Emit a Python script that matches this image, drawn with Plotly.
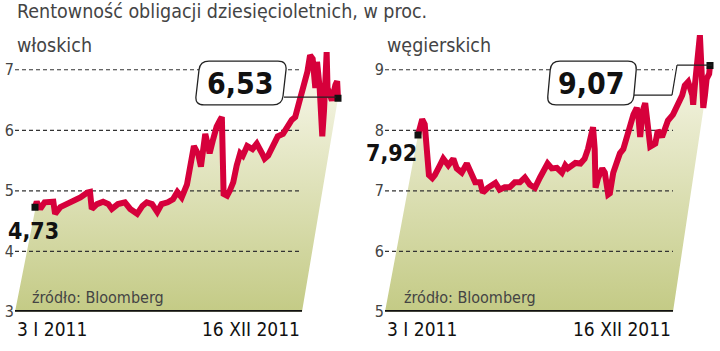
import plotly.graph_objects as go

W, H = 720, 351

# ---------------- data ----------------
title_text = "Rentowność obligacji dziesięcioletnich, w proc."
panel_names = ["włoskich", "węgierskich"]
source_text = "źródło: Bloomberg"
x_labels = ["3 I 2011", "16 XII 2011"]

# days since 3 I 2011
it_days = [0, 2, 6, 11, 21, 23, 29, 37, 44, 52, 60, 63, 65, 71, 78, 84, 88, 95, 103, 109,
           117, 123, 128, 134, 140, 145, 152, 158, 163, 168, 174, 178, 182, 187, 190, 195,
           197, 200, 204, 208, 212, 214, 216, 220, 223, 227, 231, 235, 238, 243, 249, 254,
           260, 263, 267, 273, 278, 284, 289, 294, 298, 300, 303, 307, 312, 315, 318, 321,
           323, 326, 329, 331, 334, 335, 340, 344, 346, 347]
it_yield = [4.73, 4.82, 4.70, 4.81, 4.82, 4.62, 4.73, 4.78, 4.82, 4.89, 4.97, 4.98, 4.70, 4.78,
            4.82, 4.78, 4.70, 4.78, 4.81, 4.70, 4.62, 4.75, 4.81, 4.78, 4.65, 4.78, 4.81, 4.86,
            4.98, 4.89, 5.10, 5.45, 5.74, 5.60, 5.40, 5.94, 5.78, 5.62, 5.85, 6.06, 6.17, 6.22,
            4.95, 4.92, 5.00, 5.14, 5.42, 5.62, 5.58, 5.74, 5.69, 5.78, 5.62, 5.53, 5.58, 5.78,
            5.90, 5.94, 6.06, 6.17, 6.22, 6.38, 6.49, 6.70, 6.97, 7.24, 7.18, 6.70, 7.13, 6.70,
            5.90, 6.33, 7.29, 6.70, 6.49, 6.75, 6.81, 6.53]

hu_days = [0, 5, 8, 10, 11, 12, 13, 17, 20, 26, 30, 36, 42, 46, 52, 58, 62, 68, 74, 77, 83,
           92, 97, 103, 109, 115, 121, 127, 133, 139, 145, 151, 154, 159, 165, 171, 175, 178,
           187, 193, 198, 202, 207, 208, 210, 211, 214, 219, 222, 226, 228, 232, 236, 240, 244,
           248, 252, 256, 260, 262, 264, 267, 270, 272, 276, 282, 285, 290, 294, 297, 303, 309,
           314, 317, 321, 326, 327, 329, 332, 333, 335, 336, 337, 339, 341, 343, 346, 347]
hu_yield = [7.92, 8.18, 8.10, 7.85, 7.62, 7.53, 7.26, 7.21, 7.26, 7.42, 7.53, 7.42, 7.53, 7.37,
            7.30, 7.45, 7.30, 7.14, 7.14, 6.97, 7.05, 7.13, 7.02, 7.06, 7.06, 7.14, 7.14, 7.22,
            7.10, 7.05, 7.22, 7.37, 7.45, 7.37, 7.38, 7.30, 7.42, 7.37, 7.46, 7.45, 7.53, 7.69,
            8.00, 8.05, 7.69, 7.05, 7.21, 7.37, 7.30, 6.94, 6.96, 7.30, 7.46, 7.62, 7.69, 7.89,
            8.10, 8.26, 8.37, 8.21, 7.89, 8.32, 8.45, 8.21, 7.73, 7.78, 8.00, 7.89, 8.05, 8.16,
            8.26, 8.42, 8.58, 8.74, 8.80, 8.58, 8.42, 8.74, 9.17, 9.49, 9.57, 9.28, 8.74, 8.37,
            8.58, 8.85, 8.93, 9.07]

it_ticks = [3, 4, 5, 6, 7]
hu_ticks = [5, 6, 7, 8, 9]

# ---------------- style / geometry ----------------
RED = "#d6003b"
FILL_BOTTOM = "#c2c982"
FILL_TOP = "#fbfaf0"
TXT = "#444444"
NARROW = "Liberation Sans Narrow, Arial Narrow, DejaVu Sans Condensed, sans-serif"

Y_BASE_PX = 321
PX_PER_UNIT = 62.3
Y_TOP_PX = 25


def px(x):
    return x / W


def py(y):
    return 1 - y / H


panels = [
    dict(days=it_days, vals=it_yield, ticks=it_ticks, name=panel_names[0],
         base_l=15, base_r=302, first_px=35, last_px=338, dom_r=350,
         src_x=30, box=(195, 282, 5), box_txt=(240, 86), start_lbl=(33, 238),
         leader=[(284, 100), (336, 100)], name_x=15),
    dict(days=hu_days, vals=hu_yield, ticks=hu_ticks, name=panel_names[1],
         base_l=385, base_r=673, first_px=418, last_px=710, dom_r=718,
         src_x=402, box=(547, 633, 4), box_txt=(591, 86), start_lbl=(392, 158),
         leader=[(634, 98), (672, 98), (677, 67), (712, 67)], name_x=385),
]


def fmt(v):
    return f"{v:.2f}".replace(".", ",")


def rounded_box_path(xl, xr, skew, yt, yb, r):
    pts = [(xl + skew, yt), (xr + skew, yt), (xr, yb), (xl, yb)]
    n = len(pts)

    def toward(p, q, d):
        dx, dy = q[0] - p[0], q[1] - p[1]
        L = (dx * dx + dy * dy) ** 0.5
        return (p[0] + dx / L * d, p[1] + dy / L * d)

    segs = []
    for i in range(n):
        p = pts[i]
        a = toward(p, pts[i - 1], r)
        b = toward(p, pts[(i + 1) % n], r)
        segs.append((a, p, b))
    s = "M %f,%f " % (px(segs[0][2][0]), py(segs[0][2][1]))
    for i in list(range(1, n)) + [0]:
        a, p, b = segs[i]
        s += "L %f,%f Q %f,%f %f,%f " % (px(a[0]), py(a[1]), px(p[0]), py(p[1]), px(b[0]), py(b[1]))
    return s + "Z"


fig = go.Figure()
shapes = []
annotations = []

for i, P in enumerate(panels):
    xa = "x" if i == 0 else "x2"
    ya = "y" if i == 0 else "y2"
    days, vals = P["days"], P["vals"]
    y0 = P["ticks"][0]
    dpp = (days[-1] - days[0]) / (P["last_px"] - P["first_px"])

    def day_at(p, P=P, dpp=dpp, days=days):
        return days[0] + (p - P["first_px"]) * dpp

    c_l, c_r = day_at(P["base_l"]), day_at(P["base_r"])
    y_top = y0 + (Y_BASE_PX - Y_TOP_PX) / PX_PER_UNIT

    # gradient fill under the curve
    fig.add_trace(go.Scatter(
        x=[c_l] + days + [c_r], y=[y0] + vals + [y0], xaxis=xa, yaxis=ya,
        mode="lines", fill="toself", line=dict(width=0),
        fillgradient=dict(type="vertical", colorscale=[[0, FILL_BOTTOM], [1, FILL_TOP]],
                          start=y0, stop=max(vals)),
        hoverinfo="skip", showlegend=False))
    # dashed gridlines
    for t in P["ticks"][1:]:
        fig.add_trace(go.Scatter(
            x=[c_l, c_r], y=[t, t], xaxis=xa, yaxis=ya, mode="lines",
            line=dict(color="#333333", width=1.2, dash="4px,3px"),
            hoverinfo="skip", showlegend=False))
    # baseline
    fig.add_trace(go.Scatter(
        x=[c_l, c_r], y=[y0, y0], xaxis=xa, yaxis=ya, mode="lines",
        line=dict(color="#111111", width=3.5), hoverinfo="skip", showlegend=False))
    # yield line
    fig.add_trace(go.Scatter(
        x=days, y=vals, xaxis=xa, yaxis=ya, mode="lines",
        line=dict(color=RED, width=6), hoverinfo="skip", showlegend=False))
    # end markers
    fig.add_trace(go.Scatter(
        x=[days[0], days[-1]], y=[vals[0], vals[-1]], xaxis=xa, yaxis=ya, mode="markers",
        marker=dict(symbol="square", size=7, color="#111111"),
        hoverinfo="skip", showlegend=False))

    dom = [px(P["base_l"]), px(P["dom_r"])]
    xkey = "xaxis" if i == 0 else "xaxis2"
    ykey = "yaxis" if i == 0 else "yaxis2"
    fig.update_layout(**{
        xkey: dict(domain=dom, range=[c_l, day_at(P["dom_r"])], showgrid=False,
                   zeroline=False, showticklabels=False, showline=False, fixedrange=True,
                   anchor=ya),
        ykey: dict(domain=[py(Y_BASE_PX), py(Y_TOP_PX)], range=[y0, y_top],
                   tickvals=P["ticks"], ticktext=[str(t) for t in P["ticks"]],
                   showgrid=False, zeroline=False, showline=False, ticks="",
                   tickfont=dict(family=NARROW, size=16, color="#444444"),
                   anchor=xa, fixedrange=True),
    })

    # label box for last value
    bl, br, sk = P["box"]
    shapes.append(dict(type="path", xref="paper", yref="paper",
                       path=rounded_box_path(bl, br, sk, 63, 108, 9),
                       line=dict(color="#222222", width=1.3), fillcolor="white", layer="above"))
    ld = P["leader"]
    for (xa0, ya0), (xa1, ya1) in zip(ld[:-1], ld[1:]):
        shapes.append(dict(type="line", xref="paper", yref="paper",
                           x0=px(xa0), y0=py(ya0), x1=px(xa1), y1=py(ya1),
                           line=dict(color="#222222", width=1.2), layer="above"))
    tx, ty = P["box_txt"]
    annotations.append(dict(x=px(tx), y=py(ty), xref="paper", yref="paper", showarrow=False,
                            text="<b>%s</b>" % fmt(vals[-1]), xanchor="center", yanchor="middle",
                            font=dict(family=NARROW, size=30, color="#111111")))
    sx, sy = P["start_lbl"]
    annotations.append(dict(x=px(sx), y=py(sy), xref="paper", yref="paper", showarrow=False,
                            text="<b>%s</b>" % fmt(vals[0]), xanchor="center", yanchor="middle",
                            font=dict(family=NARROW, size=23, color="#111111")))
    # panel name
    annotations.append(dict(x=px(P["name_x"]), y=py(47), xref="paper", yref="paper",
                            showarrow=False, text=P["name"], xanchor="left", yanchor="middle",
                            font=dict(family=NARROW, size=19.5, color=TXT)))
    # source
    annotations.append(dict(x=px(P["src_x"]), y=py(306), xref="paper", yref="paper",
                            showarrow=False, text=source_text, xanchor="left", yanchor="middle",
                            font=dict(family=NARROW, size=16, color=TXT)))
    # date labels
    annotations.append(dict(x=px(P["base_l"]), y=py(339), xref="paper", yref="paper",
                            showarrow=False, text=x_labels[0], xanchor="left", yanchor="middle",
                            font=dict(family=NARROW, size=19, color="#111111")))
    annotations.append(dict(x=px(P["base_r"]), y=py(339), xref="paper", yref="paper",
                            showarrow=False, text=x_labels[1], xanchor="right", yanchor="middle",
                            font=dict(family=NARROW, size=19, color="#111111")))

annotations.append(dict(x=px(15), y=py(12), xref="paper", yref="paper", showarrow=False,
                        text=title_text, xanchor="left", yanchor="middle",
                        font=dict(family=NARROW, size=19.5, color=TXT)))

fig.update_layout(width=W, height=H, margin=dict(l=0, r=0, t=0, b=0),
                  paper_bgcolor="white", plot_bgcolor="rgba(0,0,0,0)",
                  shapes=shapes, annotations=annotations, showlegend=False)

fig.write_html("out.html", config={"displayModeBar": False})
